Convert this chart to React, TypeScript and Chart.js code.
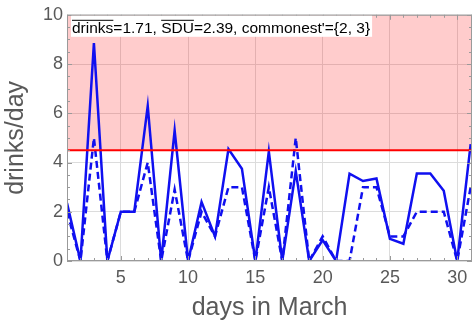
import React, { useEffect, useRef } from "react";
import { Chart, registerables } from "chart.js";

Chart.register(...registerables);

const days: number[] = Array.from({ length: 31 }, (_, i) => i + 1);
const drinks: number[] = [2.35, 0, 8.85, 0, 2, 2, 6.3, 0, 5.3, 0, 2.4, 1, 4.55, 3.75, 0, 4.45, 0, 3.65, 0, 0.85, 0, 3.55, 3.25, 3.35, 0.9, 0.7, 3.55, 3.55, 2.85, 0, 4.75];
const sdu: number[] = [2, 0, 5, 0, 2, 2, 4, 0, 2.9, 0, 2, 1, 3, 3, 0, 3, 0, 5, 0, 1, 0, 0, 3, 3, 1, 1, 2, 2, 2, 0, 3];
const threshold = 4.5;
const xMin = 1;
const xMax = 31.1;
const yMin = 0;
const yMax = 10;
const xTicks: number[] = [5, 10, 15, 20, 25, 30];
const yTicks: number[] = [0, 2, 4, 6, 8, 10];
const titleParts: string[] = ["drinks", "=1.71, ", "SDU", "=2.39, commonest'={2, 3}"];

const FONT = "'Liberation Sans', Arial, sans-serif";
const BLUE = "rgb(16,16,240)";
const TEXT = "#595959";

const framePlugin = {
  id: "frameTicks",
  afterDatasetsDraw(chart: any) {
    const { ctx, chartArea: a, scales } = chart;
    const xs = scales.x;
    const ys = scales.y;
    ctx.save();
    ctx.strokeStyle = "#9a9a9a";
    ctx.lineWidth = 1;
    // minor and major ticks, inward on all four sides
    for (let d = 1; d <= 31; d++) {
      const px = Math.round(xs.getPixelForValue(d)) + 0.5;
      const len = d % 5 === 0 ? 5 : 3;
      ctx.beginPath();
      ctx.moveTo(px, a.bottom);
      ctx.lineTo(px, a.bottom - len);
      ctx.moveTo(px, a.top);
      ctx.lineTo(px, a.top + len);
      ctx.stroke();
    }
    for (let v = 0; v <= 10; v += 0.5) {
      const py = Math.round(ys.getPixelForValue(v)) + 0.5;
      const len = v % 2 === 0 ? 5 : 3;
      ctx.beginPath();
      ctx.moveTo(a.left, py);
      ctx.lineTo(a.left + len, py);
      ctx.moveTo(a.right, py);
      ctx.lineTo(a.right - len, py);
      ctx.stroke();
    }
    ctx.strokeRect(a.left + 0.5, a.top + 0.5, a.right - a.left - 1, a.bottom - a.top - 1);

    // label box
    ctx.font = `15.5px ${FONT}`;
    const total = titleParts.reduce((s, t) => s + ctx.measureText(t).width, 0);
    const bx = a.left + 4;
    const by = a.top + 1;
    ctx.fillStyle = "#ffffff";
    ctx.fillRect(bx, by, total + 3, 21);
    ctx.fillStyle = "#000000";
    ctx.textBaseline = "alphabetic";
    let cx = bx + 1;
    const base = by + 17;
    titleParts.forEach((t, i) => {
      const w = ctx.measureText(t).width;
      ctx.fillText(t, cx, base);
      if (i === 0 || i === 2) {
        ctx.strokeStyle = "#000";
        ctx.lineWidth = 1;
        ctx.beginPath();
        ctx.moveTo(cx, by + 4.5);
        ctx.lineTo(cx + w, by + 4.5);
        ctx.stroke();
      }
      cx += w;
    });
    ctx.restore();
  },
};

export default function App() {
  const ref = useRef<HTMLCanvasElement | null>(null);
  useEffect(() => {
    if (!ref.current) return;
    const chart = new Chart(ref.current, {
      type: "line",
      data: {
        datasets: [
          {
            label: "threshold",
            data: [{ x: xMin, y: threshold }, { x: xMax, y: threshold }],
            borderColor: "rgb(255,0,0)",
            borderWidth: 2,
            backgroundColor: "rgba(255,0,0,0.2)",
            fill: "end",
            pointRadius: 0,
            order: 0,
          },
          {
            label: "SDU",
            data: days.map((d, i) => ({ x: d, y: sdu[i] })),
            borderColor: BLUE,
            borderWidth: 2.5,
            borderDash: [7, 4],
            pointRadius: 0,
            fill: false,
            order: 2,
          },
          {
            label: "drinks",
            data: days.map((d, i) => ({ x: d, y: drinks[i] })),
            borderColor: BLUE,
            borderWidth: 2.5,
            pointRadius: 0,
            fill: false,
            order: 1,
          },
        ],
      },
      options: {
        animation: false,
        responsive: false,
        events: [],
        layout: { padding: { left: 0, right: 2, top: 11, bottom: 0 } },
        plugins: {
          legend: { display: false },
          tooltip: { enabled: false },
          filler: { drawTime: "beforeDatasetsDraw" },
        } as any,
        scales: {
          x: {
            type: "linear",
            min: xMin,
            max: xMax,
            afterBuildTicks: (s: any) => {
              s.ticks = xTicks.map((v) => ({ value: v }));
            },
            afterFit: (s: any) => {
              s.height = 69;
            },
            grid: { color: "#dcdcdc", drawTicks: false },
            border: { display: false },
            ticks: { font: { family: FONT, size: 18 }, color: TEXT, padding: 6, maxRotation: 0 },
            title: {
              display: true,
              text: "days in March",
              font: { family: FONT, size: 25 },
              color: TEXT,
              padding: { top: 0, bottom: 7 },
            },
          },
          y: {
            type: "linear",
            min: yMin,
            max: yMax,
            afterBuildTicks: (s: any) => {
              s.ticks = yTicks.map((v) => ({ value: v }));
            },
            afterFit: (s: any) => {
              s.width = 67;
            },
            grid: { color: "#dcdcdc", drawTicks: false },
            border: { display: false },
            ticks: { font: { family: FONT, size: 18 }, color: TEXT, padding: 4 },
            title: {
              display: true,
              text: "drinks/day",
              font: { family: FONT, size: 25 },
              color: TEXT,
              padding: { top: 1, bottom: 0 },
            },
          },
        },
      } as any,
      plugins: [framePlugin],
    });
    return () => chart.destroy();
  }, []);
  return (
    <div style={{ position: "absolute", left: 0, top: 0, width: 474, height: 330 }}>
      <canvas ref={ref} width={474} height={330} />
    </div>
  );
}
